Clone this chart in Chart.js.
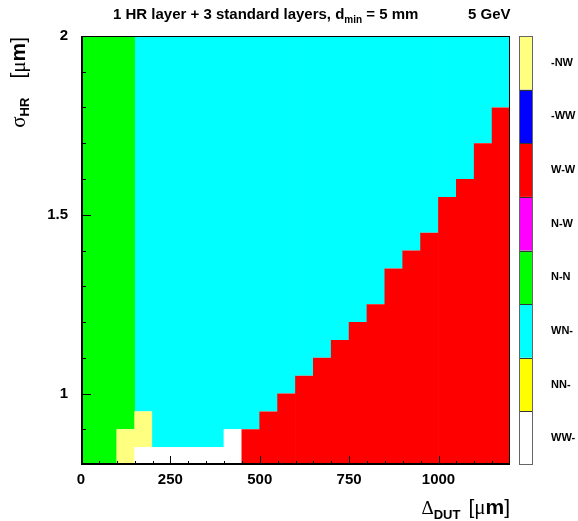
<!DOCTYPE html>
<html>
<head>
<meta charset="utf-8">
<script src="https://cdn.jsdelivr.net/npm/chart.js@4.4.1/dist/chart.umd.min.js"></script>
<style>
  html, body { margin: 0; padding: 0; background: #fff; }
  #wrap { width: 578px; height: 521px; }
</style>
</head>
<body>
<div id="wrap"><canvas id="mapChart" width="578" height="521"></canvas></div>
<script>
// bin edges of the map (Delta_DUT in um, sigma_HR in um)
const xEdges = [0, 50, 100, 150, 200, 250, 300, 350, 400, 450, 500, 550, 600,
                650, 700, 750, 800, 850, 900, 950, 1000, 1050, 1100, 1150, 1200];
const yEdges = [0.8, 0.85, 0.9, 0.95, 1.0, 1.05, 1.1, 1.15, 1.2, 1.25, 1.3, 1.35, 1.4,
                1.45, 1.5, 1.55, 1.6, 1.65, 1.7, 1.75, 1.8, 1.85, 1.9, 1.95, 2.0];

// axis ticks
const xTicks = xEdges;
const xTickLabels = [0, 250, 500, 750, 1000];
const yTicks = [0.8, 0.9, 1.0, 1.1, 1.2, 1.3, 1.4, 1.5, 1.6, 1.7, 1.8, 1.9, 2.0];
const yTickLabels = [1, 1.5, 2];

// palette, bottom to top
const categories = ['WW-', 'NN-', 'WN-', 'N-N', 'N-W', 'W-W', '-WW', '-NW'];
const catColors = ['#ffffff', '#ffff00', '#00ffff', '#00ff00', '#ff00ff', '#ff0000', '#0000ff', '#ffff80'];

// category index of every cell; first string = top row (sigma 1.95-2.0),
// one character per Delta bin from 0 to 1200
const cellRows = [
  '333222222222222222222222',
  '333222222222222222222222',
  '333222222222222222222222',
  '333222222222222222222222',
  '333222222222222222222225',
  '333222222222222222222225',
  '333222222222222222222255',
  '333222222222222222222255',
  '333222222222222222222555',
  '333222222222222222225555',
  '333222222222222222225555',
  '333222222222222222255555',
  '333222222222222222555555',
  '333222222222222225555555',
  '333222222222222225555555',
  '333222222222222255555555',
  '333222222222222555555555',
  '333222222222225555555555',
  '333222222222255555555555',
  '333222222222555555555555',
  '333222222225555555555555',
  '333722222255555555555555',
  '337722220555555555555555',
  '337000000555555555555555'
];

const nx = xEdges.length - 1;
const ny = yEdges.length - 1;
cellRows.forEach((r, i) => {
  if (r.length !== nx) throw new Error('row ' + i + ' has ' + r.length + ' cells');
});

// merge equal cells of each column into vertical runs
const runsByColumn = [];
for (let c = 0; c < nx; c++) {
  const runs = [];
  for (let j = 0; j < ny; j++) {
    const cat = +cellRows[ny - 1 - j][c];
    const last = runs[runs.length - 1];
    if (last && last.cat === cat) last.y1 = yEdges[j + 1];
    else runs.push({ cat: cat, y0: yEdges[j], y1: yEdges[j + 1] });
  }
  runsByColumn.push(runs);
}
const maxRuns = Math.max(...runsByColumn.map(r => r.length));

const datasets = [];
for (let k = 0; k < maxRuns; k++) {
  datasets.push({
    yAxisID: 'y',
    data: runsByColumn.map((runs, c) => ({
      x: (xEdges[c] + xEdges[c + 1]) / 2,
      y: runs[k] ? [runs[k].y0, runs[k].y1] : null
    })),
    backgroundColor: runsByColumn.map(runs => runs[k] ? catColors[runs[k].cat] : 'rgba(0,0,0,0)'),
    borderWidth: 0,
    barPercentage: 1.04,
    categoryPercentage: 1,
    grouped: false
  });
}

const SANS = "'Liberation Sans', Arial, Helvetica, sans-serif";
const SERIF = "'Liberation Serif', 'Times New Roman', serif";

// draws a line of text made of pieces with their own font and vertical shift
function richText(ctx, parts, x, y, align) {
  let total = 0;
  parts.forEach(p => {
    ctx.font = p.font;
    p.w = ctx.measureText(p.text).width;
    total += p.w + (p.gap || 0);
  });
  let cx = align === 'right' ? x - total : x;
  parts.forEach(p => {
    ctx.font = p.font;
    ctx.fillText(p.text, cx, y + (p.dy || 0));
    cx += p.w + (p.gap || 0);
  });
}

const rootStyle = {
  id: 'rootStyle',
  afterDatasetsDraw(chart) {
    const { ctx, chartArea: a, scales } = chart;
    ctx.save();
    ctx.strokeStyle = '#000';
    ctx.lineWidth = 1;

    // inward ticks
    ctx.beginPath();
    scales.x.ticks.forEach(t => {
      if (t.value <= scales.x.min || t.value >= scales.x.max) return;
      const px = Math.round(scales.x.getPixelForValue(t.value)) + 0.5;
      const len = xTickLabels.includes(t.value) ? 9 : 4;
      ctx.moveTo(px, a.bottom);
      ctx.lineTo(px, a.bottom - len);
    });
    scales.y.ticks.forEach(t => {
      if (t.value <= scales.y.min + 1e-6 || t.value >= scales.y.max - 1e-6) return;
      const py = Math.round(scales.y.getPixelForValue(t.value)) + 0.5;
      const major = yTickLabels.some(v => Math.abs(v - t.value) < 1e-6);
      ctx.moveTo(a.left, py);
      ctx.lineTo(a.left + (major ? 10 : 5), py);
    });
    ctx.stroke();

    // frame
    ctx.strokeRect(a.left + 0.5, a.top + 0.5, a.right - a.left - 1, a.bottom - a.top - 1);
    ctx.beginPath();
    ctx.moveTo(a.left + 1.5, a.top);
    ctx.lineTo(a.left + 1.5, a.bottom);
    ctx.moveTo(a.left, a.bottom - 1.5);
    ctx.lineTo(a.right, a.bottom - 1.5);
    ctx.stroke();

    // palette
    const pal = scales.yPal;
    const bx0 = a.right + 9, bx1 = a.right + 23;
    categories.forEach((c, i) => {
      const top = pal.getPixelForValue(i + 1);
      const bot = pal.getPixelForValue(i);
      ctx.fillStyle = catColors[i];
      ctx.fillRect(bx0, top, bx1 - bx0, bot - top);
    });
    ctx.strokeStyle = '#333';
    ctx.beginPath();
    for (let i = 1; i < categories.length; i++) {
      const py = Math.round(pal.getPixelForValue(i)) + 0.5;
      ctx.moveTo(bx0, py);
      ctx.lineTo(bx1, py);
    }
    ctx.stroke();
    ctx.strokeStyle = '#666';
    ctx.strokeRect(bx0 + 0.5, a.top + 0.5, bx1 - bx0 - 1, a.bottom - a.top - 1);
    ctx.restore();
  },
  afterDraw(chart) {
    const { ctx } = chart;
    ctx.save();
    ctx.fillStyle = '#000';
    ctx.textBaseline = 'alphabetic';
    ctx.textAlign = 'left';

    // title
    richText(ctx, [
      { text: '1 HR layer + 3 standard layers, d', font: 'bold 15px ' + SANS },
      { text: 'min', font: 'bold 10px ' + SANS, dy: 4 },
      { text: ' = 5 mm', font: 'bold 15px ' + SANS }
    ], 113, 19, 'left');
    richText(ctx, [{ text: '5 GeV', font: 'bold 15px ' + SANS }], 468, 19, 'left');

    // x title
    richText(ctx, [
      { text: '\u0394', font: '19px ' + SERIF },
      { text: 'DUT', font: 'bold 13px ' + SANS, dy: 5, gap: 8 },
      { text: '[', font: '21px ' + SANS },
      { text: '\u03bc', font: '21px ' + SERIF },
      { text: 'm', font: 'bold 21px ' + SANS },
      { text: ']', font: '21px ' + SANS }
    ], 510, 514, 'right');

    // y title, rotated
    ctx.translate(25, 37);
    ctx.rotate(-Math.PI / 2);
    richText(ctx, [
      { text: '\u03c3', font: '21px ' + SERIF },
      { text: 'HR', font: 'bold 13px ' + SANS, dy: 4, gap: 19 },
      { text: '[', font: '21px ' + SANS },
      { text: '\u03bc', font: '21px ' + SERIF },
      { text: 'm', font: 'bold 21px ' + SANS },
      { text: ']', font: '21px ' + SANS }
    ], 0, 0, 'right');
    ctx.restore();
  }
};

Chart.defaults.font.family = SANS;
Chart.defaults.color = '#000';

new Chart(document.getElementById('mapChart'), {
  type: 'bar',
  data: { datasets: datasets },
  options: {
    responsive: false,
    animation: false,
    events: [],
    layout: { padding: { top: 36, left: 0, right: 0, bottom: 0 } },
    plugins: { legend: { display: false }, tooltip: { enabled: false } },
    scales: {
      x: {
        type: 'linear',
        min: 0,
        max: 1200,
        offset: false,
        afterFit: s => { s.height = 56; },
        afterBuildTicks: s => { s.ticks = xTicks.map(v => ({ value: v })); },
        grid: { display: false, drawTicks: false },
        border: { display: false },
        ticks: {
          autoSkip: false,
          maxRotation: 0,
          padding: 6,
          font: { size: 15, weight: 'bold' },
          callback: v => xTickLabels.includes(v) ? String(v) : ''
        }
      },
      y: {
        type: 'linear',
        position: 'left',
        min: 0.8,
        max: 2.0,
        afterFit: s => { s.width = 81; },
        afterBuildTicks: s => { s.ticks = yTicks.map(v => ({ value: v })); },
        grid: { display: false, drawTicks: false },
        border: { display: false },
        ticks: {
          autoSkip: false,
          padding: 13,
          font: { size: 15, weight: 'bold' },
          callback: v => {
            const lab = yTickLabels.find(t => Math.abs(t - v) < 1e-6);
            return lab === undefined ? '' : String(lab);
          }
        }
      },
      yPal: {
        type: 'linear',
        position: 'right',
        min: 0,
        max: categories.length,
        afterFit: s => { s.width = 68; },
        afterBuildTicks: s => { s.ticks = categories.map((c, i) => ({ value: i + 0.5 })); },
        // invisible tick length pushes the labels past the colour bar
        grid: { display: false, drawTicks: true, tickLength: 41 },
        border: { display: false },
        ticks: {
          autoSkip: false,
          padding: 0,
          font: { size: 11, weight: 'bold' },
          callback: (v, i) => categories[i]
        }
      }
    }
  },
  plugins: [rootStyle]
});
</script>
</body>
</html>
